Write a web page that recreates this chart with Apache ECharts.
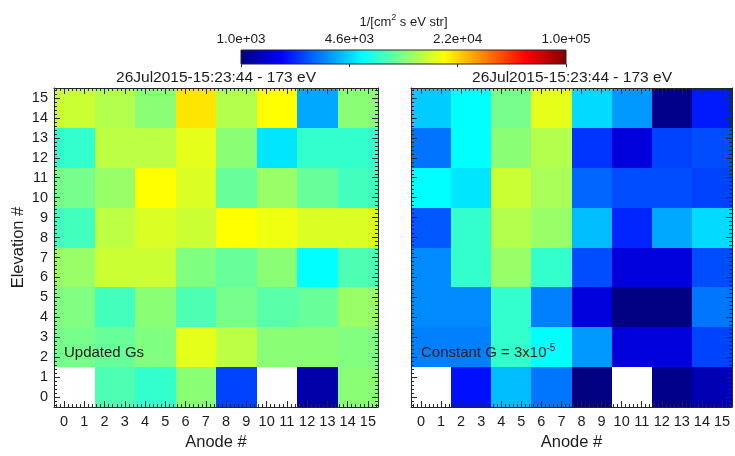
<!DOCTYPE html>
<html>
<head>
<meta charset="utf-8">
<title>26Jul2015-15:23:44 - 173 eV</title>
<script src="https://cdn.jsdelivr.net/npm/echarts@6/dist/echarts.min.js"></script>
<style>
  html, body { margin: 0; padding: 0; background: #ffffff; }
  #chart { width: 735px; height: 456px; }
</style>
</head>
<body>
<div id="chart"></div>
<script>
// Differential flux per anode pair (columns: anodes 0-1 ... 14-15)
// and elevation pair (rows: elevations 0-1 ... 14-15), units 1/[cm^2 s eV str].
// null = no data for that pixel.
const updatedGs = [
  [null,  7943,  7079, 10471,  2399,  null,  1202, 10471],
  [ 9550,  8913, 10000, 15849, 13183, 10471, 10471, 10000],
  [10000,  7586, 10471,  7943,  9550,  8318,  8913, 11220],
  [11220, 14125, 14125, 10000,  8913, 10471,  5623,  7943],
  [ 7586, 13183, 15136, 14125, 17783, 16596, 15136, 15136],
  [ 9550, 11220, 17783, 15136,  8913, 11220,  8913,  7586],
  [ 7079, 13183, 13183, 15849, 10471,  5012,  7079,  7079],
  [14125, 12589, 10471, 19953, 12589, 17783,  3802, 10471]
];
const constantG = [
  [null,  1905,  4169,  3020,  1000,  null,  1047,  1259],
  [ 3162,  3162,  7079,  5623,  3548,  1514,  1514,  2399],
  [ 3311,  3311,  7079,  3162,  1514,  1000,  1000,  3020],
  [ 3311,  7079, 11220,  7079,  2512,  1514,  1514,  2512],
  [ 2630,  7079, 12589, 11220,  4169,  2089,  3802,  4786],
  [ 5623,  5012, 14125, 12023,  2818,  2512,  2512,  2399],
  [ 2985,  5623, 10471, 12589,  2239,  1514,  2399,  2512],
  [ 4467,  5623,  9550, 15849,  4786,  3548,  1047,  1995]
];
const colorbarTickLabels = ['1.0e+03', '4.6e+03', '2.2e+04', '1.0e+05'];
const colorbarRange = [1e3, 1e5];
const plotTitle = '26Jul2015-15:23:44 - 173 eV';
const panelNotes = ['{b|Updated Gs}', '{b|Constant G = 3x10}{sup|-5}'];

// Rainbow (jet) colour table, evenly spaced stops
const jet = ['#000080', '#0000ff', '#0080ff', '#00ffff', '#80ff80',
             '#ffff00', '#ff8000', '#ff0000', '#800000'];

const FONT = 'Liberation Sans, Arial, Helvetica, sans-serif';
const INK = '#1c1c1c';
const FRAME = '#262626';

function cells(table) {
  const out = [];
  table.forEach((row, j) => row.forEach((v, i) => {
    if (v != null) out.push([i, j, Math.log10(v)]);
  }));
  return out;
}

// each table cell covers two anodes x two elevations; edges snapped to whole pixels
function renderCell(params, api) {
  const i = api.value(0), j = api.value(1);
  const p0 = api.coord([2 * i - 0.5, 2 * j - 0.5]);
  const p1 = api.coord([2 * i + 1.5, 2 * j + 1.5]);
  const x0 = Math.round(p0[0]), x1 = Math.round(p1[0]);
  const yT = Math.round(p1[1]), yB = Math.round(p0[1]);
  return {
    type: 'rect',
    shape: { x: x0, y: yT, width: x1 - x0, height: yB - yT },
    style: { fill: api.visual('color'), stroke: null }
  };
}

function renderColorbar(params, api) {
  const lo = api.coord([api.value(0), 0]);
  const hi = api.coord([api.value(1), 1]);
  return {
    type: 'rect',
    shape: { x: lo[0], y: hi[1], width: hi[0] - lo[0], height: lo[1] - hi[1] },
    style: {
      fill: new echarts.graphic.LinearGradient(0, 0, 1, 0,
        jet.map((c, k) => ({ offset: k / (jet.length - 1), color: c }))),
      stroke: FRAME, lineWidth: 1
    }
  };
}

const intLabel = v => (Math.abs(v - Math.round(v)) < 1e-6 ? String(Math.round(v)) : '');

function pixelAxis(kind, gridIndex, position, labels, name) {
  const ax = {
    type: 'value', gridIndex, position,
    min: -0.5, max: 15.5, minInterval: 1, maxInterval: 1, splitNumber: 16,
    z: 10,
    splitLine: { show: false },
    axisLine: { show: true, onZero: false, lineStyle: { color: FRAME, width: 1 } },
    axisTick: { show: true, inside: true, length: 6, lineStyle: { color: FRAME, width: 1 } },
    minorTick: { show: true, splitNumber: 5, length: 3, lineStyle: { color: FRAME, width: 1 } },
    axisLabel: {
      show: labels, formatter: intLabel, color: INK,
      fontFamily: FONT, fontSize: 14.5, margin: kind === 'x' ? 7 : 6,
      showMinLabel: true, showMaxLabel: true, hideOverlap: false
    }
  };
  if (name) {
    ax.name = name;
    ax.nameLocation = 'middle';
    ax.nameTextStyle = { color: INK, fontFamily: FONT, fontSize: 16.5 };
    if (kind === 'x') { ax.nameGap = 24; }
    else { ax.nameGap = 27; ax.nameRotate = 90; }
  }
  return ax;
}

const chart = echarts.init(document.getElementById('chart'), null, { renderer: 'canvas' });

const lgMin = Math.log10(colorbarRange[0]);
const lgMax = Math.log10(colorbarRange[1]);

chart.setOption({
  animation: false,
  backgroundColor: '#ffffff',
  textStyle: { fontFamily: FONT },
  grid: [
    { left: 54, top: 88, width: 324, height: 324 },
    { left: 411, top: 88, width: 323, height: 324 },
    { left: 241, top: 50, width: 325, height: 14 }
  ],
  xAxis: [
    pixelAxis('x', 0, 'bottom', true, 'Anode #'),
    pixelAxis('x', 0, 'top', false),
    pixelAxis('x', 1, 'bottom', true, 'Anode #'),
    pixelAxis('x', 1, 'top', false),
    {
      type: 'value', gridIndex: 2, position: 'top',
      min: lgMin, max: lgMax, interval: (lgMax - lgMin) / 3, z: 10,
      splitLine: { show: false },
      axisLine: { show: false },
      axisTick: { show: true, inside: true, length: 3, lineStyle: { color: FRAME } },
      axisLabel: {
        show: true, color: INK, fontFamily: FONT, fontSize: 13.5, margin: 4,
        showMinLabel: true, showMaxLabel: true,
        formatter: (v, idx) => colorbarTickLabels[idx] || ''
      },
      name: '{t|1/[cm}{sup|2}{t| s eV str]}',
      nameLocation: 'middle', nameGap: 19,
      nameTextStyle: {
        color: INK, fontFamily: FONT,
        rich: {
          t: { fontSize: 13, lineHeight: 18, color: INK, fontFamily: FONT },
          sup: { fontSize: 9, lineHeight: 9, verticalAlign: 'top', color: INK, fontFamily: FONT }
        }
      }
    }
  ],
  yAxis: [
    pixelAxis('y', 0, 'left', true, 'Elevation #'),
    pixelAxis('y', 0, 'right', false),
    pixelAxis('y', 1, 'left', false),
    pixelAxis('y', 1, 'right', false),
    { type: 'value', gridIndex: 2, min: 0, max: 1, show: false }
  ],
  visualMap: {
    type: 'continuous', show: false, min: lgMin, max: lgMax,
    dimension: 2, seriesIndex: [0, 1],
    inRange: { color: jet }
  },
  series: [
    {
      name: 'Updated Gs', type: 'custom', coordinateSystem: 'cartesian2d',
      xAxisIndex: 0, yAxisIndex: 0, renderItem: renderCell,
      data: cells(updatedGs), encode: { x: 0, y: 1 }, z: 2, silent: true
    },
    {
      name: 'Constant G', type: 'custom', coordinateSystem: 'cartesian2d',
      xAxisIndex: 2, yAxisIndex: 2, renderItem: renderCell,
      data: cells(constantG), encode: { x: 0, y: 1 }, z: 2, silent: true
    },
    {
      name: 'colorbar', type: 'custom', coordinateSystem: 'cartesian2d',
      xAxisIndex: 4, yAxisIndex: 4, renderItem: renderColorbar,
      data: [[lgMin, lgMax]], encode: { x: [0, 1] }, z: 2, silent: true
    }
  ],
  graphic: [
    { type: 'text', x: 216, y: 78, style: { text: plotTitle, fill: INK, font: '15.5px ' + FONT, align: 'center', verticalAlign: 'middle' } },
    { type: 'text', x: 572, y: 78, style: { text: plotTitle, fill: INK, font: '15.5px ' + FONT, align: 'center', verticalAlign: 'middle' } },
    {
      type: 'text', x: 64, y: 353, z: 20,
      style: {
        text: panelNotes[0], fill: INK, align: 'left', verticalAlign: 'middle',
        rich: { b: { fontSize: 15, lineHeight: 20, fontFamily: FONT, fill: INK } }
      }
    },
    {
      type: 'text', x: 421, y: 353, z: 20,
      style: {
        text: panelNotes[1], fill: INK, align: 'left', verticalAlign: 'middle',
        rich: {
          b: { fontSize: 15, lineHeight: 20, fontFamily: FONT, fill: INK },
          sup: { fontSize: 10, lineHeight: 10, verticalAlign: 'top', fontFamily: FONT, fill: INK }
        }
      }
    }
  ]
});
</script>
</body>
</html>
